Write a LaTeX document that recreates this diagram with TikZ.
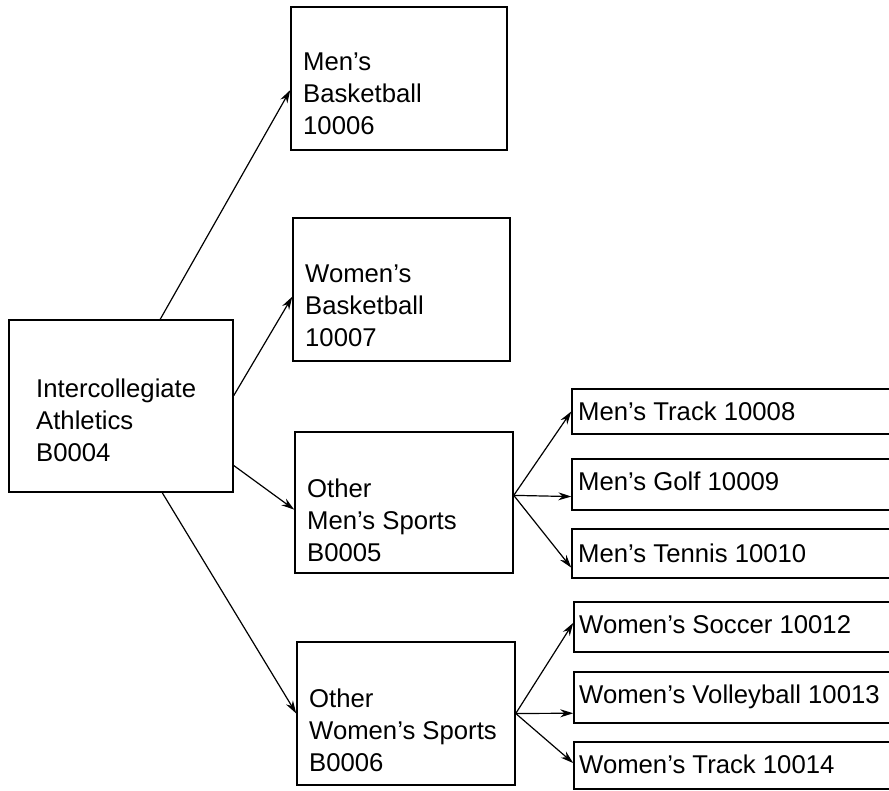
\documentclass[tikz,border=0pt]{standalone}
\usepackage{fontspec}
\setmainfont{Liberation Sans}
\usetikzlibrary{arrows.meta,calc}
\begin{document}
\begin{tikzpicture}[x=1pt,y=-1pt,
  box/.style 2 args={draw,line width=1.5pt,inner sep=0pt,minimum width=#1,minimum height=#2},
  lbl/.style={anchor=north west,inner sep=0pt,align=left,font=\fontsize{25.7}{32}\selectfont},
  conn/.style={line width=1.2pt,-{Stealth[length=13pt,width=8pt]}}]
\useasboundingbox (0,0) rectangle (889,791);
\clip (0,0) rectangle (889,791);
% boxes
\node[box={224pt}{172pt}] (root) at (121,406) {};
\node[box={216pt}{143pt}] (mb) at (399,78.5) {};
\node[box={217pt}{143pt}] (wb) at (401.5,289.5) {};
\node[box={218pt}{141pt}] (oms) at (404,502.5) {};
\node[box={218pt}{143pt}] (ows) at (406,713.5) {};
\node[box={428pt}{45pt}] (mt) at (786,411.5) {};
\node[box={428pt}{51pt}] (mg) at (786,484.5) {};
\node[box={428pt}{49pt}] (mten) at (786,553.5) {};
\node[box={426pt}{50pt}] (ws) at (787,627) {};
\node[box={426pt}{51pt}] (wv) at (787,697.5) {};
\node[box={426pt}{47pt}] (wt) at (787,765.5) {};
% labels
\node[lbl] (rootT) at (36,379) {Intercollegiate\\Athletics\\B0004};
\node[lbl] (mbT) at (303,53) {Men’s\\Basketball\\10006};
\node[lbl] (wbT) at (305,265) {Women’s\\Basketball\\10007};
\node[lbl] (omsT) at (307,479) {Other\\Men’s Sports\\B0005};
\node[lbl] (owsT) at (309,689) {Other\\Women’s Sports\\B0006};
\node[lbl] (mtT) at (578,402) {Men’s Track 10008};
\node[lbl] (mgT) at (578,472) {Men’s Golf 10009};
\node[lbl] (mtenT) at (578,544) {Men’s Tennis 10010};
\node[lbl] (wsT) at (579,615) {Women’s Soccer 10012};
\node[lbl] (wvT) at (579,685) {Women’s Volleyball 10013};
\node[lbl] (wtT) at (579,755) {Women’s Track 10014};
% connectors
\draw[conn] ($(root.north west)!0.674!(root.north east)$) -- ($(mb.north west)!0.58!(mb.south west)$);
\draw[conn] ($(root.north east)!0.44!(root.south east)$) -- ($(wb.north west)!0.55!(wb.south west)$);
\draw[conn] ($(root.north east)!0.843!(root.south east)$) -- ($(oms.north west)!0.55!(oms.south west)$);
\draw[conn] ($(root.south west)!0.683!(root.south east)$) -- (ows.west);
\coordinate (mfan) at ($(oms.north east)!0.45!(oms.south east)$);
\draw[conn] (mfan) -- (mt.west);
\draw[conn] (mfan) -- ($(mg.north west)!0.73!(mg.south west)$);
\draw[conn] (mfan) -- ($(mten.north west)!0.78!(mten.south west)$);
\coordinate (wfan) at (ows.east);
\draw[conn] (wfan) -- ($(ws.north west)!0.42!(ws.south west)$);
\draw[conn] (wfan) -- ($(wv.north west)!0.80!(wv.south west)$);
\draw[conn] (wfan) -- ($(wt.north west)!0.45!(wt.south west)$);
\end{tikzpicture}
\end{document}
